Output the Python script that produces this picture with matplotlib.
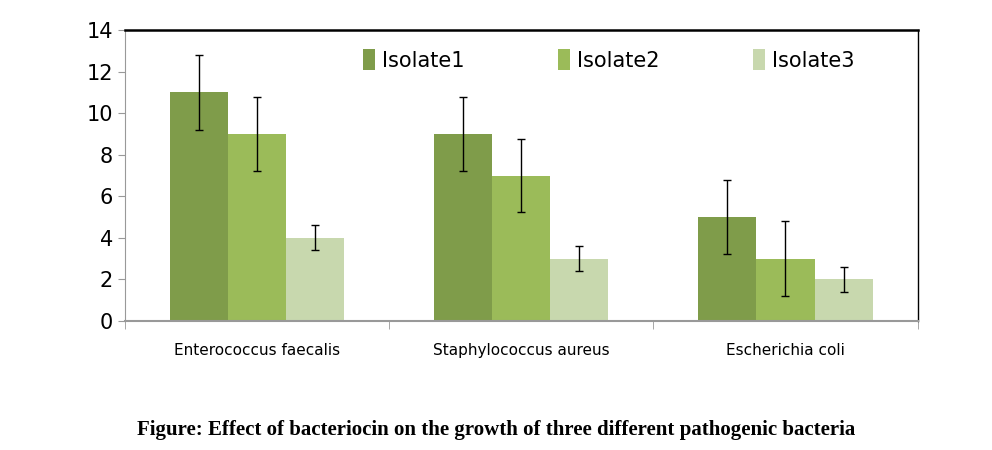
import matplotlib

matplotlib.use("Agg")
import matplotlib.pyplot as plt
import numpy as np

categories = ["Enterococcus faecalis", "Staphylococcus aureus", "Escherichia coli"]
series_names = ["Isolate1", "Isolate2", "Isolate3"]
isolate1 = [11, 9, 5]
isolate2 = [9, 7, 3]
isolate3 = [4, 3, 2]
err1 = [1.8, 1.8, 1.8]
err2 = [1.8, 1.75, 1.8]
err3 = [0.6, 0.6, 0.6]
yticks = [0, 2, 4, 6, 8, 10, 12, 14]
colors = ["#7f9c4a", "#9bbb59", "#c8d8ae"]

NARROW = ["Liberation Sans Narrow", "DejaVu Sans"]

fig = plt.figure(figsize=(9.92, 4.5), dpi=100)
ax = fig.add_axes([0.126, 0.287, 0.799, 0.646])

x = np.arange(len(categories))
width = 0.22
for k, (vals, errs) in enumerate(zip((isolate1, isolate2, isolate3), (err1, err2, err3))):
    ax.bar(x + (k - 1) * width, vals, width, color=colors[k], label=series_names[k],
           yerr=errs, error_kw=dict(ecolor="black", elinewidth=1, capsize=3, capthick=1))

ax.set_xlim(-0.5, 2.5)
ax.set_ylim(0, 14)
ax.set_yticks(yticks)
ax.set_yticklabels([str(t) for t in yticks], family=NARROW, fontsize=15)
ax.set_xticks(x)
ax.set_xticklabels(categories, family=NARROW, fontsize=11)
ax.set_xticks([-0.5, 0.5, 1.5, 2.5], minor=True)
ax.tick_params(axis="x", which="major", length=0, pad=16)
ax.tick_params(axis="x", which="minor", length=6, color="#999999")
ax.tick_params(axis="y", length=5, color="#999999")

for side in ("left", "bottom"):
    ax.spines[side].set_color("#999999")
ax.spines["bottom"].set_linewidth(1.5)
ax.spines["top"].set_linewidth(1.8)
ax.spines["right"].set_linewidth(1.0)

ax.legend(loc="upper center", bbox_to_anchor=(0.61, 1.0), ncol=3, frameon=False,
          prop={"family": NARROW, "size": 15}, handlelength=0.6, handleheight=1.2,
          columnspacing=4.5, handletextpad=0.3)

fig.text(0.5, 0.045, "Figure: Effect of bacteriocin on the growth of three different pathogenic bacteria",
         ha="center", va="center", family=["Liberation Serif", "DejaVu Serif"], fontsize=15, fontweight="bold")

fig.savefig("out.png", dpi=100)
